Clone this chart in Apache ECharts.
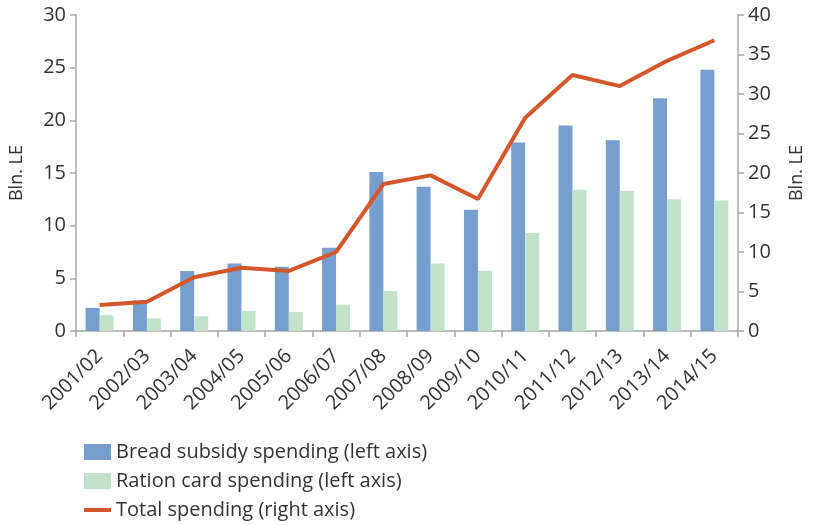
<!DOCTYPE html>
<html>
<head>
<meta charset="utf-8">
<script src="https://cdn.jsdelivr.net/npm/echarts@6/dist/echarts.min.js"></script>
<style>
  html, body { margin: 0; padding: 0; background: #fff; }
  #chart { width: 814px; height: 525px; }
</style>
</head>
<body>
<div id="chart"></div>
<script>
// years
var years = ["2001/02", "2002/03", "2003/04", "2004/05", "2005/06", "2006/07", "2007/08",
  "2008/09", "2009/10", "2010/11", "2011/12", "2012/13", "2013/14", "2014/15"];
// left axis, Bln. LE
var bread = [2.2, 2.9, 5.7, 6.4, 6.1, 7.9, 15.1, 13.7, 11.5, 17.9, 19.5, 18.1, 22.1, 24.8];
var ration = [1.5, 1.2, 1.4, 1.9, 1.8, 2.5, 3.8, 6.4, 5.7, 9.3, 13.4, 13.3, 12.5, 12.4];
// right axis, Bln. LE
var total = [3.3, 3.7, 6.8, 8.0, 7.6, 10.0, 18.6, 19.7, 16.7, 27.0, 32.4, 31.0, 34.2, 36.8];

var font = "Open Sans";
var txt = "#333";
var axisGrey = "#a6a6a6";

var chart = echarts.init(document.getElementById("chart"));
var option = {
  animation: false,
  textStyle: { fontFamily: font, color: txt },
  grid: { left: 76, right: 66, top: 15, bottom: 194 },
  legend: {
    orient: "vertical",
    left: 77,
    top: 437,
    height: 100,
    itemWidth: 27,
    itemHeight: 16,
    itemGap: 9,
    textStyle: { fontFamily: font, fontSize: 20, color: txt },
    data: [
      { name: "Bread subsidy spending (left axis)", icon: "rect" },
      { name: "Ration card spending (left axis)", icon: "rect" },
      {
        name: "Total spending (right axis)",
        itemStyle: { color: "rgba(0,0,0,0)", borderWidth: 0 },
        lineStyle: { width: 4, color: "#d2572a" }
      }
    ]
  },
  xAxis: {
    type: "category",
    data: years,
    axisLine: { lineStyle: { color: axisGrey, width: 1.5 } },
    axisTick: { show: true, length: 6, lineStyle: { color: axisGrey, width: 1.5 } },
    axisLabel: { rotate: 45, fontSize: 20, color: txt, margin: 22, fontFamily: font }
  },
  yAxis: [
    {
      type: "value",
      min: 0, max: 30, interval: 5,
      name: "Bln. LE",
      nameLocation: "middle",
      nameRotate: 90,
      nameGap: 50,
      nameTextStyle: { fontSize: 18, color: txt, fontFamily: font },
      splitLine: { show: false },
      axisLine: { show: true, lineStyle: { color: axisGrey, width: 1.5 } },
      axisTick: { show: true, length: 6, lineStyle: { color: axisGrey, width: 1.5 } },
      axisLabel: { fontSize: 20, color: txt, margin: 10, fontFamily: font }
    },
    {
      type: "value",
      position: "right",
      min: 0, max: 40, interval: 5,
      name: "Bln. LE",
      nameLocation: "middle",
      nameRotate: 90,
      nameGap: 50,
      nameTextStyle: { fontSize: 18, color: txt, fontFamily: font },
      splitLine: { show: false },
      axisLine: { show: true, lineStyle: { color: axisGrey, width: 1.5 } },
      axisTick: { show: true, length: 6, lineStyle: { color: axisGrey, width: 1.5 } },
      axisLabel: { fontSize: 20, color: txt, margin: 10, fontFamily: font }
    }
  ],
  series: [
    {
      name: "Bread subsidy spending (left axis)",
      type: "bar",
      data: bread,
      barWidth: 14,
      barGap: "0%",
      itemStyle: { color: "#779fcd" }
    },
    {
      name: "Ration card spending (left axis)",
      type: "bar",
      data: ration,
      barWidth: 14,
      barGap: "0%",
      itemStyle: { color: "#c2e3ca" }
    },
    {
      name: "Total spending (right axis)",
      type: "line",
      yAxisIndex: 1,
      data: total,
      symbol: "none",
      lineStyle: { color: "#d2572a", width: 4 },
      itemStyle: { color: "#d2572a" }
    }
  ]
};
chart.setOption(option);
</script>
</body>
</html>
